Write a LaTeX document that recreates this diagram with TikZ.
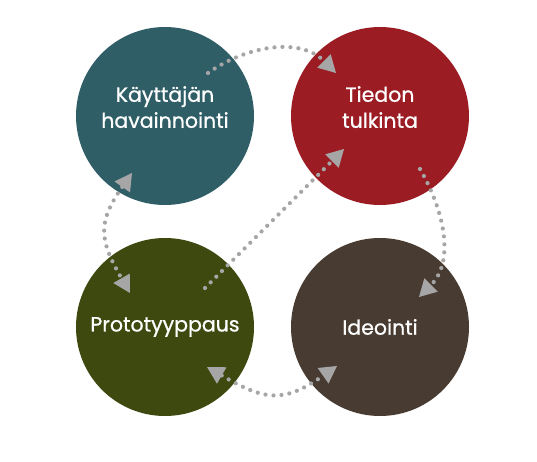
\documentclass[tikz,border=0pt]{standalone}
\usepackage{fontspec}
\setmainfont{Poppins}
\newfontfamily\phasefont{Poppins}[FakeBold=0.8]
\usetikzlibrary{arrows.meta,calc}
\definecolor{tealc}{RGB}{47,94,102}
\definecolor{redc}{RGB}{155,29,35}
\definecolor{olivec}{RGB}{61,73,15}
\definecolor{brownc}{RGB}{72,59,50}
\definecolor{dotgray}{RGB}{166,166,166}
\begin{document}
\begin{tikzpicture}[x=1pt,y=1pt,
        phase/.style={circle,minimum size=178pt,inner sep=0pt,text=white,align=center,font=\phasefont\fontsize{20.5}{26}\selectfont},
        dots/.style={draw=dotgray,line width=4.2pt,line cap=round,dash pattern=on 0pt off 8pt,
            >={Triangle[length=17pt,width=19pt,line width=0pt,fill=dotgray]}}]
        \useasboundingbox (0,0) rectangle (537,461);
        \begin{scope}[every node/.style={phase}]
            \node[fill=tealc] (kay) at (165, 345) {Käyttäjän\\havainnointi\\[-8pt]};
            \node[fill=redc] (tie) at (380, 345) {Tiedon\\tulkinta\\[-8pt]};
            \node[fill=olivec] (pro) at (165, 134) {Prototyyppaus};
            \node[fill=brownc] (ide) at (380, 134) {Ideointi};
        \end{scope}
        % ends of the dotted arrows inside the circles
        \coordinate (kay-a) at ($(kay)+(43,43)$);
        \coordinate (kay-b) at ($(kay)+(-33,-57)$);
        \coordinate (tie-a) at ($(tie)+(-44,43)$);
        \coordinate (tie-b) at ($(tie)+(-36,-33)$);
        \coordinate (tie-c) at ($(tie)+(40,-53)$);
        \coordinate (pro-a) at ($(pro)+(40,39)$);
        \coordinate (pro-b) at ($(pro)+(-35,34)$);
        \coordinate (pro-c) at ($(pro)+(42,-40)$);
        \coordinate (ide-a) at ($(ide)+(39,30)$);
        \coordinate (ide-b) at ($(ide)+(-43,-39)$);
        \begin{scope}[every edge/.append style={dots}]
            \path [->] (kay-a) edge [out=35, in=135] (tie-a);
            \path [->] (pro-a) edge (tie-b);
            \path [<->] (kay-b) edge [out=235, in=120, looseness=1.3] (pro-b);
            \path [->] (tie-c) edge [out=300, in=45] (ide-a);
            \path [<->] (pro-c) edge [out=330, in=215, looseness=1.3] (ide-b);
        \end{scope}
    \end{tikzpicture}
\end{document}
